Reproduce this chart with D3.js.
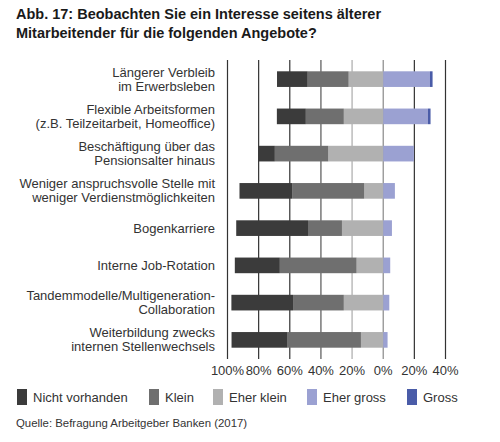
<!DOCTYPE html>
<html><head><meta charset="utf-8">
<script src="https://cdn.jsdelivr.net/npm/d3@7"></script>
<style>body{margin:0;background:#fff;} text{font-family:"Liberation Sans",Arial,sans-serif;}</style>
</head><body>
<svg id="c" width="500" height="442"></svg>
<script>
const categories = [
  ["Längerer Verbleib","im Erwerbsleben"],
  ["Flexible Arbeitsformen","(z.B. Teilzeitarbeit, Homeoffice)"],
  ["Beschäftigung über das","Pensionsalter hinaus"],
  ["Weniger anspruchsvolle Stelle mit","weniger Verdienstmöglichkeiten"],
  ["Bogenkarriere"],
  ["Interne Job-Rotation"],
  ["Tandemmodelle/Multigeneration-","Collaboration"],
  ["Weiterbildung zwecks","internen Stellenwechsels"]
];
const seriesNames = ["Nicht vorhanden","Klein","Eher klein","Eher gross","Gross"];
const nichtVorhanden = [19.7, 18.6, 10.7, 33.8, 46.1, 28.9, 39.6, 36.0];
const klein          = [26.3, 24.4, 34.3, 46.3, 21.8, 49.3, 32.6, 47.1];
const eherKlein      = [22.2, 25.3, 35.3, 12.2, 26.5, 17.1, 25.3, 14.3];
const eherGross      = [30.0, 28.7, 19.7, 7.5, 5.6, 4.5, 3.9, 2.8];
const gross          = [1.7, 1.7, 0, 0, 0, 0, 0, 0];
const tickValues = [-100,-80,-60,-40,-20,0,20,40];
const tickLabels = ["100%","80%","60%","40%","20%","0%","20%","40%"];
const colors = ["#3b3b3b","#6f6f6f","#b1b1b1","#9ba1d2","#4a5ca8"];
const gridColors = ["#333","#333","#333","#555","#aaa","#888","#333","#333"];

const svg = d3.select("#c");
const x = d3.scaleLinear().domain([-100,40]).range([227.5,445.5]);
const y = d3.scaleBand().domain(d3.range(categories.length)).range([60.5,358.5]).paddingInner(0.58).paddingOuter(0.29);

// title
const title = svg.append("text").attr("x",16).attr("y",19).attr("font-size","14.5px").attr("font-weight","bold").attr("fill","#1a1a1a");
title.append("tspan").attr("x",16).attr("y",19).text("Abb. 17: Beobachten Sie ein Interesse seitens älterer");
title.append("tspan").attr("x",16).attr("y",37.5).text("Mitarbeitender für die folgenden Angebote?");

// grid
svg.append("g").selectAll("line").data(tickValues).join("line")
  .attr("x1",d=>x(d)).attr("x2",d=>x(d)).attr("y1",60).attr("y2",359)
  .attr("stroke",(d,i)=>gridColors[i]).attr("stroke-width",1.2);

// bars
const leftSeries = [[eherKlein,2],[klein,1],[nichtVorhanden,0]];
const rightSeries = [[eherGross,3],[gross,4]];
const gBars = svg.append("g");
categories.forEach((c,i)=>{
  let acc = 0;
  leftSeries.forEach(([arr,ci])=>{
    const v = arr[i];
    gBars.append("rect").attr("x",x(-(acc+v))).attr("width",x(-acc)-x(-(acc+v)))
      .attr("y",y(i)).attr("height",y.bandwidth()).attr("fill",colors[ci]);
    acc += v;
  });
  acc = 0;
  rightSeries.forEach(([arr,ci])=>{
    const v = arr[i];
    if(v>0) gBars.append("rect").attr("x",x(acc)).attr("width",x(acc+v)-x(acc))
      .attr("y",y(i)).attr("height",y.bandwidth()).attr("fill",colors[ci]);
    acc += v;
  });
});

// category labels
const gLab = svg.append("g").attr("font-size","13px").attr("fill","#333").attr("text-anchor","end");
categories.forEach((lines,i)=>{
  const cy = y(i)+y.bandwidth()/2;
  const t = gLab.append("text");
  const lh = 14;
  lines.forEach((l,j)=>{
    t.append("tspan").attr("x",215).attr("y",cy + (j-(lines.length-1)/2)*lh + 4.5).text(l);
  });
});

// x tick labels
svg.append("g").attr("font-size","13px").attr("fill","#333").attr("text-anchor","middle")
  .selectAll("text").data(tickValues).join("text")
  .attr("x",d=>x(d)).attr("y",375).text((d,i)=>tickLabels[i]);

// legend
const legX = [17,149,213,307,407];
const gLeg = svg.append("g");
seriesNames.forEach((n,i)=>{
  gLeg.append("rect").attr("x",legX[i]).attr("y",389).attr("width",10).attr("height",16).attr("fill",colors[i]);
  gLeg.append("text").attr("x",legX[i]+16).attr("y",402).attr("font-size","13px").attr("fill","#333").text(n);
});

// source
svg.append("text").attr("x",16).attr("y",427).attr("font-size","11.4px").attr("fill","#333").text("Quelle: Befragung Arbeitgeber Banken (2017)");
</script>
</body></html>
